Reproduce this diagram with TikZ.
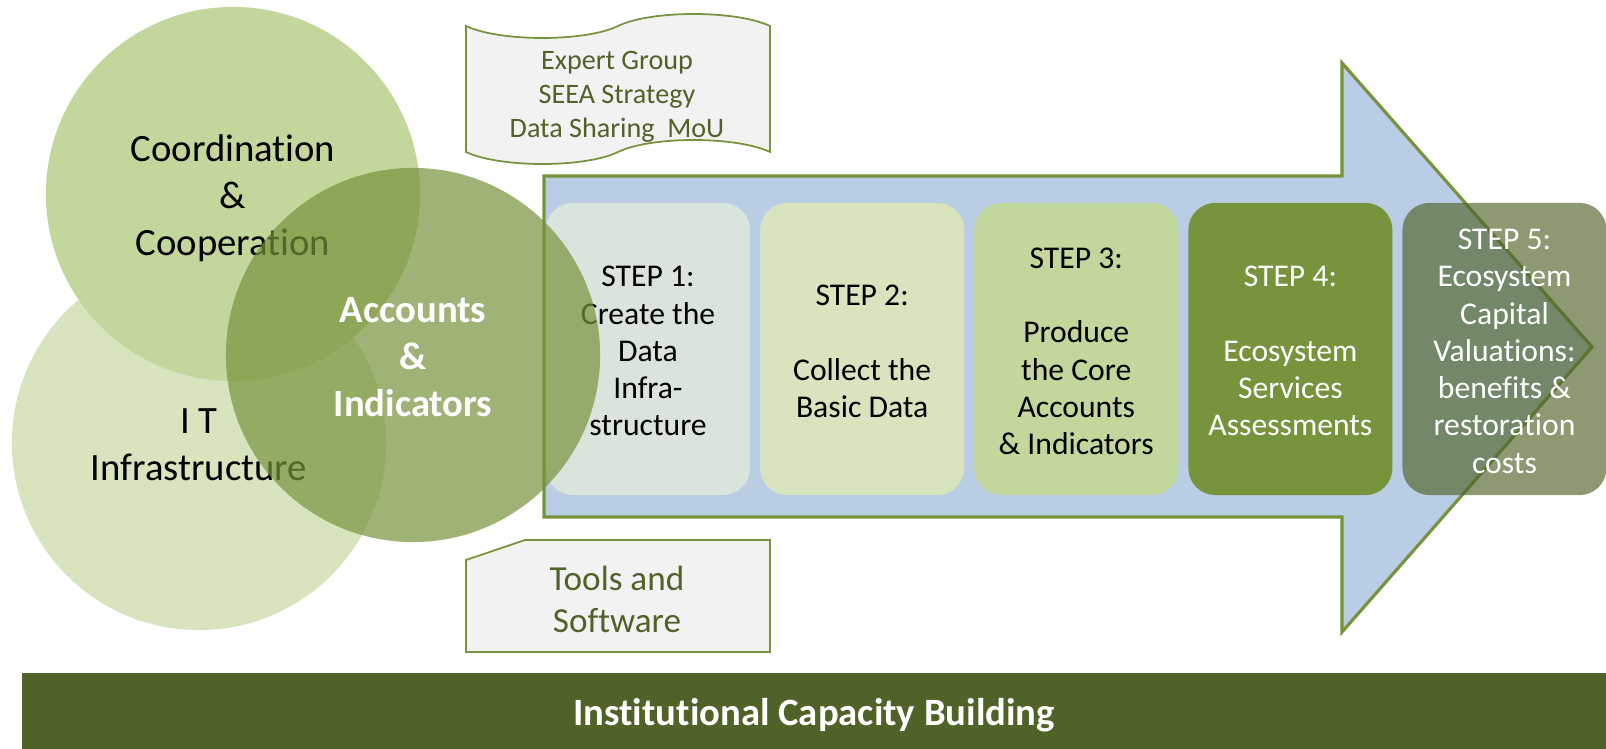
\documentclass[tikz,border=0pt]{standalone}
\usepackage{fontspec}
\setmainfont{Carlito}[Ligatures={NoCommon,NoContextual}]
\usetikzlibrary{positioning}
\definecolor{itgreen}{HTML}{D7E4BD}
\definecolor{coordgreen}{HTML}{C3D69B}
\definecolor{linegreen}{HTML}{77933C}
\definecolor{darkolive}{HTML}{4F6228}
\definecolor{arrowblue}{HTML}{B9CDE5}
\definecolor{paper}{HTML}{F2F2F2}
\definecolor{stepone}{HTML}{DAE4DD}
\setlength{\tabcolsep}{1pt}
\newcommand{\celltext}[1]{\raisebox{-1.4pt}[\height][\depth]{\begin{tabular}{c}#1\end{tabular}}}
\tikzset{
    venn/.style = {circle, minimum size=3.74cm, inner sep=0pt, font=\fontsize{11}{13.4}\selectfont},
    stepbox/.style = {rounded corners=0.27cm, minimum width=2.04cm, minimum height=2.92cm, inner sep=0pt, outer sep=0pt, font=\fontsize{9}{10.6}\selectfont},
    note/.style = {draw=linegreen, fill=paper, line width=0.5pt},
    notetext/.style = {text=darkolive, inner sep=0pt},
    bigarrow/.style = {draw=linegreen, fill=arrowblue, line width=0.9pt}
}
\begin{document}
\begin{tikzpicture}[x=0.01cm, y=-0.01cm]
    \useasboundingbox (0,0) rectangle (1606,749);

    % circles
    \node[venn, fill=itgreen] (it) at (199,443) {\celltext{I T\\Infrastructure}};
    \node[venn, fill=coordgreen] (coord) at (233,194) {\celltext{Coordination\\\&\\Cooperation}};

    % notes
    \draw[note] (466,26) .. controls (500,42) and (585,42) .. (618,26)
        .. controls (651,10) and (736,10) .. (770,26) -- (770,152)
        .. controls (736,136) and (651,136) .. (618,152)
        .. controls (585,168) and (500,168) .. (466,152) -- cycle;
    \node[notetext, font=\fontsize{8}{9.7}\selectfont] (expert) at (617,92) {\celltext{Expert Group\\SEEA Strategy\\Data Sharing\ \ MoU}};
    \draw[note] (466,560) -- (525,540) -- (770,540) -- (770,652) -- (466,652) -- cycle;
    \node[notetext, font=\fontsize{10}{12.2}\selectfont] (tools) at (617,598) {\celltext{Tools and\\Software}};

    % arrow
    \draw[bigarrow] (544,176) -- (1342,176) -- (1342,63) -- (1592,347) -- (1342,632) -- (1342,517) -- (544,517) -- cycle;

    % steps
    \node[stepbox, fill=stepone] (s1) at (648,349) {\celltext{STEP 1:\\Create the\\Data\\Infra-\\structure}};
    \node[stepbox, fill=itgreen, right=0.1cm of s1] (s2) {\celltext{STEP 2:\\ \\Collect the\\Basic Data}};
    \node[stepbox, fill=coordgreen, right=0.1cm of s2] (s3) {\celltext{STEP 3:\\ \\Produce\\the Core\\Accounts\\\& Indicators}};
    \node[stepbox, fill=linegreen, text=white, right=0.1cm of s3] (s4) {\celltext{STEP 4:\\ \\Ecosystem\\Services\\Assessments}};
    \node[stepbox, fill=darkolive, fill opacity=0.65, text opacity=1, text=white, right=0.1cm of s4] (s5) {\celltext{STEP 5:\\Ecosystem\\Capital\\Valuations:\\benefits \&\\restoration\\costs}};

    % accounts
    \node[venn, fill=linegreen, fill opacity=0.7, text opacity=1, text=white, font=\fontsize{11}{13.4}\selectfont\bfseries] (acc) at (413,355) {\celltext{Accounts\\\&\\Indicators}};

    % bar
    \node[fill=darkolive, minimum width=15.84cm, minimum height=0.76cm, inner sep=0pt, text=white, font=\fontsize{11}{13}\selectfont\bfseries] (icb) at (814,711) {\celltext{Institutional Capacity Building}};
\end{tikzpicture}
\end{document}
